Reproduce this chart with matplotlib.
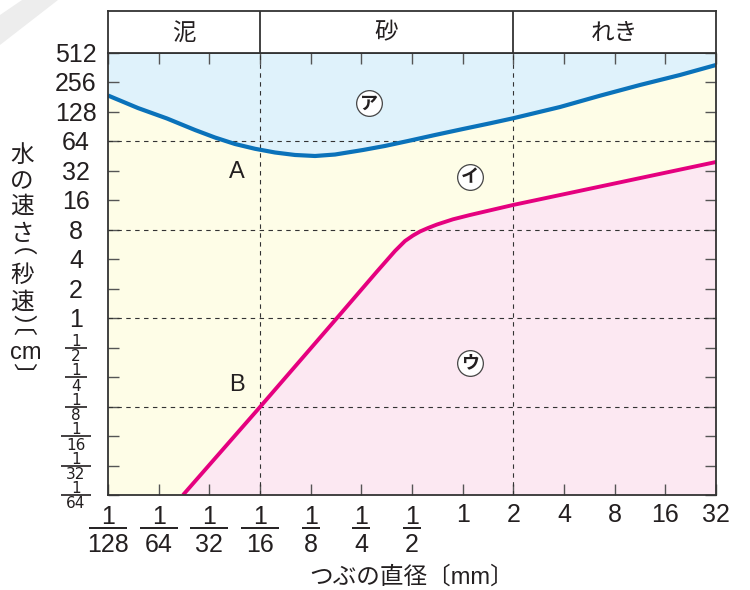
import matplotlib
matplotlib.use('Agg')
import matplotlib.pyplot as plt
from matplotlib import transforms
from matplotlib.patches import Polygon
from matplotlib.ticker import FixedLocator, NullLocator, NullFormatter

plt.rcParams['font.family'] = ['Liberation Sans', 'Noto Sans CJK JP']

# ---------------- data ----------------
# blue curve: grain diameter [mm] -> water speed [cm/s]
blue_d = [0.0078125, 0.01177, 0.01751, 0.02569, 0.03377, 0.04441, 0.05836, 0.07672,
          0.1009, 0.1327, 0.1744, 0.2558, 0.3455, 0.4734, 0.6849, 1.005, 1.453,
          1.991, 3.787, 6.548, 11.31, 19.55, 32]
blue_v = [188.4, 140.3, 109.7, 83.7, 70.1, 60.2, 53.8, 49.3,
          46.5, 45.4, 47.0, 52.3, 57.5, 64.6, 74.4, 85.7, 97.9,
          110.2, 143.7, 187.5, 241.2, 305.2, 386.2]

# pink curve
pink_d = [0.0218, 0.0625, 0.1792, 0.3097, 0.3962, 0.4544, 0.5070, 0.5579, 0.6224,
          0.7040, 0.8758, 1.105, 1.991, 32]
pink_v = [0.015625, 0.1238, 1.005, 3.000, 4.859, 6.147, 6.998, 7.687, 8.344,
          9.062, 10.24, 11.33, 14.34, 39.42]

x_tick_vals = [1/128, 1/64, 1/32, 1/16, 1/8, 1/4, 1/2, 1, 2, 4, 8, 16, 32]
x_frac_den = ['128', '64', '32', '16', '8', '4', '2']
x_int_labels = ['1', '2', '4', '8', '16', '32']

y_tick_vals = [1/64, 1/32, 1/16, 1/8, 1/4, 1/2, 1, 2, 4, 8, 16, 32, 64, 128, 256, 512]
y_frac_den = ['64', '32', '16', '8', '4', '2']
y_int_labels = ['1', '2', '4', '8', '16', '32', '64', '128', '256', '512']

grid_y = [1/8, 1, 8, 64]
class_bounds = [1/128, 1/16, 2, 32]
class_names = ['泥', '砂', 'れき']

# ---------------- style ----------------
C_BLUE_FILL = '#dff2fb'
C_YEL_FILL = '#fefde7'
C_PINK_FILL = '#fce8f2'
C_BLUE = '#0a72ba'
C_PINK = '#e5007f'
C_TXT = '#231f20'

W, H = 750, 590
fig = plt.figure(figsize=(W / 100, H / 100), dpi=100)
fig.patch.set_facecolor('white')

L, R, Bt, T = 108 / W, 716 / W, 1 - 495 / H, 1 - 53 / H
ax = fig.add_axes([L, Bt, R - L, T - Bt])
hx = fig.add_axes([L, T, R - L, (53 - 11) / H])

# faint page artefact in the corner
fig.patches.append(Polygon([(0, 1 - 15 / H), (22 / W, 1), (58 / W, 1), (0, 1 - 45 / H)],
                           closed=True, transform=fig.transFigure,
                           facecolor='#ededed', edgecolor='none', zorder=0))

for a in (ax, hx):
    a.set_xscale('log', base=2)
    a.set_xlim(x_tick_vals[0], x_tick_vals[-1])
ax.set_yscale('log', base=2)
ax.set_ylim(y_tick_vals[0], y_tick_vals[-1])

ax.set_facecolor(C_YEL_FILL)
ax.fill_between(blue_d, blue_v, y_tick_vals[-1], color=C_BLUE_FILL, lw=0, zorder=1)
ax.fill_between(pink_d, y_tick_vals[0], pink_v, color=C_PINK_FILL, lw=0, zorder=1)

for gy in grid_y:
    ax.axhline(gy, color='#333333', lw=0.8, dashes=(4, 4), zorder=2)
for gx in class_bounds[1:-1]:
    ax.axvline(gx, color='#333333', lw=0.8, dashes=(4, 4), zorder=2)

ax.plot(blue_d, blue_v, color=C_BLUE, lw=3.0, solid_capstyle='butt',
        solid_joinstyle='round', zorder=4)
ax.plot(pink_d, pink_v, color=C_PINK, lw=2.8, solid_capstyle='butt',
        solid_joinstyle='round', zorder=4)

# ticks
ax.xaxis.set_major_locator(FixedLocator(x_tick_vals))
ax.yaxis.set_major_locator(FixedLocator(y_tick_vals))
ax.xaxis.set_minor_locator(NullLocator())
ax.yaxis.set_minor_locator(NullLocator())
ax.xaxis.set_major_formatter(NullFormatter())
ax.yaxis.set_major_formatter(NullFormatter())
ax.tick_params(which='major', direction='in', length=8, width=1.0, color='#555555',
               top=True, right=True, bottom=True, left=True,
               labelbottom=False, labelleft=False)
for s in ax.spines.values():
    s.set_color('#333333')
    s.set_linewidth(1.3)
    s.set_zorder(6)

# header
hx.set_ylim(0, 1)
hx.set_xticks([])
hx.set_yticks([])
hx.xaxis.set_minor_locator(NullLocator())
for s in hx.spines.values():
    s.set_color('#333333')
    s.set_linewidth(1.3)
for b in class_bounds[1:-1]:
    hx.axvline(b, color='#333333', lw=1.3)
for i, name in enumerate(class_names):
    c = (class_bounds[i] * class_bounds[i + 1]) ** 0.5
    hx.text(c, 0.47, name, ha='center', va='center', fontsize=17, color=C_TXT,
            family=['Noto Sans CJK JP'])

# ---------- custom tick labels ----------
def off(base, dx, dy):
    return transforms.offset_copy(base, fig=fig, x=dx, y=dy, units='dots')

xt = ax.get_xaxis_transform()
yt = ax.get_yaxis_transform()

for v, den in zip(x_tick_vals[:len(x_frac_den)], x_frac_den):
    ax.text(v, 0, '1', transform=off(xt, 0, -29), ha='center', va='baseline',
            fontsize=18, color=C_TXT, clip_on=False)
    ax.text(v, 0, den, transform=off(xt, 0, -57), ha='center', va='baseline',
            fontsize=18, color=C_TXT, clip_on=False)
    wpt = 28 if len(den) > 1 else 13
    ax.plot([v], [0], marker='_', ms=wpt, mew=1.4, color=C_TXT,
            transform=off(xt, 0, -32.5), clip_on=False)
for v, lab in zip(x_tick_vals[len(x_frac_den):], x_int_labels):
    ax.text(v, 0, lab, transform=off(xt, 0, -27), ha='center', va='baseline',
            fontsize=18, color=C_TXT, clip_on=False)

ylx = (76 - 108) / 608
for v, den in zip(y_tick_vals[:len(y_frac_den)], y_frac_den):
    ax.text(ylx, v, '1', transform=off(yt, 0, 1.8), ha='center', va='baseline',
            fontsize=11, color=C_TXT, family=['DejaVu Sans'], clip_on=False)
    ax.text(ylx, v, den, transform=off(yt, 0, -13.5), ha='center', va='baseline',
            fontsize=11, color=C_TXT, family=['DejaVu Sans'], clip_on=False)
    wpt = 21.5 if len(den) > 1 else 16.5
    ax.plot([ylx], [v], marker='_', ms=wpt, mew=1.2, color=C_TXT,
            transform=yt, clip_on=False)
for v, lab in zip(y_tick_vals[len(y_frac_den):], y_int_labels):
    ax.text(ylx, v, lab, transform=off(yt, 0, -9), ha='center', va='baseline',
            fontsize=18, color=C_TXT, clip_on=False)

# axis titles
fig.text(412 / W, 1 - 577 / H, 'つぶの直径〔mm〕', ha='center', va='center',
         fontsize=17, color=C_TXT)

# vertical y title: (text, anchor y-pixel, x-pixel, family)
ytitle = [('水', 155, 22, 'Noto Sans CJK JP'),
          ('の', 182, 22, 'Noto Sans CJK JP'),
          ('速', 206, 22, 'Noto Sans CJK JP'),
          ('さ', 234, 22, 'Noto Sans CJK JP'),
          ('︵', 247.5, 25, 'Noto Sans CJK JP'),
          ('秒', 275, 22, 'Noto Sans CJK JP'),
          ('速', 302, 22, 'Noto Sans CJK JP'),
          ('︶', 328.5, 25, 'Noto Sans CJK JP'),
          ('︹', 326, 25, 'Noto Sans CJK JP'),
          ('cm', 353, 26, 'Liberation Sans'),
          ('︺', 377, 25, 'Noto Sans CJK JP')]
for ch, yp, xp, fam in ytitle:
    fig.text(xp / W, 1 - yp / H, ch, ha='center', va='center', fontsize=17,
             color=C_TXT, family=[fam])

# region labels
ax.text((237 - 108) / 608, (495 - 172) / 442, 'A', transform=ax.transAxes,
        ha='center', va='center', fontsize=17, color=C_TXT, zorder=7)
ax.text((237 - 108) / 608, (495 - 385) / 442, 'B', transform=ax.transAxes,
        ha='center', va='center', fontsize=17, color=C_TXT, zorder=7)
for (px, py), kana in zip([(369, 103), (470, 176.7), (470, 362.7)], ['ア', 'イ', 'ウ']):
    xa, ya = (px - 108) / 608, (495 - py) / 442
    ax.plot([xa], [ya], 'o', transform=ax.transAxes, ms=18.5, mfc='white',
            mec='#444444', mew=0.9, zorder=7)
    ax.text(xa, ya, kana, transform=ax.transAxes, ha='center', va='center',
            fontsize=13, fontweight='bold', color=C_TXT,
            family=['Noto Sans CJK JP'], zorder=8)

fig.savefig('out.png', dpi=100)
